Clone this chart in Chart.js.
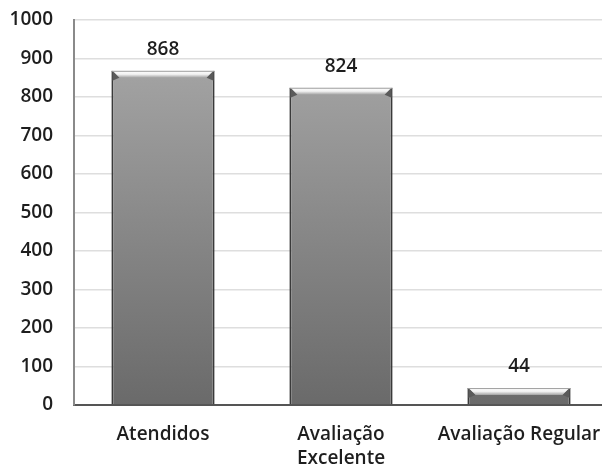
<!DOCTYPE html>
<html>
<head>
<meta charset="utf-8">
<script src="https://cdn.jsdelivr.net/npm/chart.js@4"></script>
<style>
  html, body { margin: 0; padding: 0; background: #fff; overflow: hidden; }
  #wrap { width: 602px; height: 470px; overflow: hidden; }
  #myChart { display: block; }
</style>
</head>
<body>
<div id="wrap"><canvas id="myChart" width="608" height="470"></canvas></div>
<script>
const categories = ['Atendidos', ['Avaliação', 'Excelente'], 'Avaliação Regular'];
const values = [868, 824, 44];
const yTicks = [0, 100, 200, 300, 400, 500, 600, 700, 800, 900, 1000];

const ctx = document.getElementById('myChart').getContext('2d');
const textFont = { family: 'Open Sans', size: 19, weight: '600' };

function barGradient(context) {
    const chart = context.chart;
    const area = chart.chartArea;
    if (!area) return '#8c8c8c';
    const g = chart.ctx.createLinearGradient(0, area.bottom, 0, area.top);
    g.addColorStop(0, '#6a6a6a');
    g.addColorStop(1, '#ababab');
    return g;
}

// value labels + bevelled top like the original
const barExtras = {
    id: 'barExtras',
    afterDatasetsDraw(chart) {
        const c = chart.ctx;
        const meta = chart.getDatasetMeta(0);
        meta.data.forEach((bar, i) => {
            const left = bar.x - bar.width / 2;
            const right = bar.x + bar.width / 2;
            const top = bar.y;
            const h = 7;
            c.save();
            const g = c.createLinearGradient(0, top, 0, top + h);
            g.addColorStop(0, '#ffffff');
            g.addColorStop(0.5, '#f0f0f0');
            g.addColorStop(1, '#a0a0a0');
            c.fillStyle = g;
            c.beginPath();
            c.moveTo(left + 1, top);
            c.lineTo(right - 1, top);
            c.lineTo(right - 1 - h, top + h);
            c.lineTo(left + 1 + h, top + h);
            c.closePath();
            c.fill();
            c.fillStyle = '#5a5a5a';
            c.beginPath();
            c.moveTo(left + 1, top);
            c.lineTo(left + 1 + h, top + h);
            c.lineTo(left + 1, top + h + 3);
            c.closePath();
            c.fill();
            c.beginPath();
            c.moveTo(right - 1, top);
            c.lineTo(right - 1 - h, top + h);
            c.lineTo(right - 1, top + h + 3);
            c.closePath();
            c.fill();
            c.strokeStyle = '#a0a0a0';
            c.lineWidth = 1;
            c.beginPath();
            c.moveTo(left, top + 0.5);
            c.lineTo(right, top + 0.5);
            c.stroke();

            c.fillStyle = '#1e1e1e';
            c.font = '600 19px "Open Sans"';
            c.textAlign = 'center';
            c.textBaseline = 'alphabetic';
            c.fillText(String(values[i]), bar.x, top - 16);
            c.restore();
        });
    }
};

const myChart = new Chart(ctx, {
    type: 'bar',
    data: {
        labels: categories,
        datasets: [{
            data: values,
            backgroundColor: barGradient,
            borderColor: '#3a3a3a',
            borderWidth: { left: 2, right: 2, top: 0, bottom: 0 },
            borderSkipped: false,
            barPercentage: 0.58,
            categoryPercentage: 1
        }]
    },
    options: {
        responsive: false,
        animation: false,
        layout: { padding: { top: 20, left: 0, right: 0, bottom: 0 } },
        plugins: {
            legend: { display: false },
            tooltip: { enabled: false }
        },
        scales: {
            x: {
                grid: { display: false, drawTicks: false },
                border: { color: '#555555', width: 2 },
                ticks: {
                    color: '#1e1e1e',
                    font: { family: 'Open Sans', size: 19, weight: '600', lineHeight: 1.3 },
                    padding: 17,
                    maxRotation: 0,
                    autoSkip: false
                },
                afterFit(scale) {
                    scale.height = 65;
                    scale.paddingLeft = 0;
                    scale.paddingRight = 0;
                }
            },
            y: {
                min: 0,
                max: 1000,
                afterBuildTicks(scale) { scale.ticks = yTicks.map(v => ({ value: v })); },
                grid: { color: '#dedede', lineWidth: 1.5, drawTicks: false },
                border: { color: '#8a8a8a', width: 2 },
                ticks: {
                    color: '#1e1e1e',
                    font: textFont,
                    padding: 21,
                    callback: (value) => String(value)
                },
                afterFit(scale) {
                    scale.width = 74;
                    scale.paddingTop = 0;
                    scale.paddingBottom = 0;
                }
            }
        }
    },
    plugins: [barExtras]
});
</script>
</body>
</html>
